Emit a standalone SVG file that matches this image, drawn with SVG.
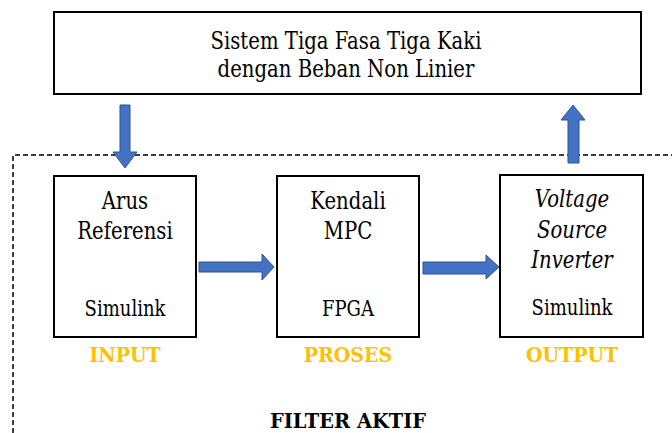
<svg xmlns="http://www.w3.org/2000/svg" width="672" height="433" viewBox="0 0 672 433">
  <style>
    .box { fill: #ffffff; stroke: #000000; stroke-width: 2; }
    text { font-family: "DejaVu Serif", serif; text-anchor: middle; }
    .t { fill: #000000; }
    .main { font-size: 24px; }
    .sub { font-size: 22px; }
    .it { font-style: italic; }
    .lbl { font-weight: bold; font-size: 20px; fill: #FFC000; }
    .title { font-weight: bold; font-size: 20px; fill: #000000; }
    .arrow { fill: #4472C4; stroke: #2F528F; stroke-width: 1; }
    .dash { fill: none; stroke: #000000; stroke-width: 1.5; stroke-dasharray: 5 3; }
  </style>

  <!-- active filter boundary -->
  <g id="filter-boundary">
    <path class="dash" d="M13 433 V155 H672"/>
    <text class="title" transform="translate(348 428) scale(0.97 1)">FILTER AKTIF</text>
  </g>

  <!-- three-phase system -->
  <g id="sistem">
    <rect class="box" x="54" y="12" width="587" height="82"/>
    <text class="t main" transform="translate(346 49) scale(0.82 1)">Sistem Tiga Fasa Tiga Kaki</text>
    <text class="t main" transform="translate(346 77) scale(0.82 1)">dengan Beban Non Linier</text>
  </g>

  <g id="arus-referensi">
    <rect class="box" x="54" y="176" width="142" height="161"/>
    <text class="t main" transform="translate(125 209) scale(0.82 1)">Arus</text>
    <text class="t main" transform="translate(125 239) scale(0.82 1)">Referensi</text>
    <text class="t sub" transform="translate(125 316) scale(0.82 1)">Simulink</text>
    <text class="lbl" transform="translate(125 362) scale(0.95 1)">INPUT</text>
  </g>

  <g id="kendali-mpc">
    <rect class="box" x="277" y="176" width="142" height="161"/>
    <text class="t main" transform="translate(348 209) scale(0.82 1)">Kendali</text>
    <text class="t main" transform="translate(348 239) scale(0.82 1)">MPC</text>
    <text class="t sub" transform="translate(348 316) scale(0.82 1)">FPGA</text>
    <text class="lbl" transform="translate(348 362) scale(0.95 1)">PROSES</text>
  </g>

  <g id="vsi">
    <rect class="box" x="500" y="175" width="143" height="162"/>
    <text class="t main it" transform="translate(572 207) scale(0.82 1)">Voltage</text>
    <text class="t main it" transform="translate(572 238) scale(0.82 1)">Source</text>
    <text class="t main it" transform="translate(572 268) scale(0.82 1)">Inverter</text>
    <text class="t sub" transform="translate(572 315) scale(0.82 1)">Simulink</text>
    <text class="lbl" transform="translate(572 362) scale(0.95 1)">OUTPUT</text>
  </g>

  <!-- block arrows -->
  <g id="connectors">
    <path class="arrow" d="M120 105 H130 V152 H137 L125 168 L113 152 H120 Z"/>
    <path class="arrow" d="M199 262 H262 V254 L274 267 L262 280 V272 H199 Z"/>
    <path class="arrow" d="M423 262 H486 V255 L499 267 L486 279 V274 H423 Z"/>
    <path class="arrow" d="M568 163 V120 H561 L573 105 L585 120 H579 V163 Z"/>
  </g>
</svg>
